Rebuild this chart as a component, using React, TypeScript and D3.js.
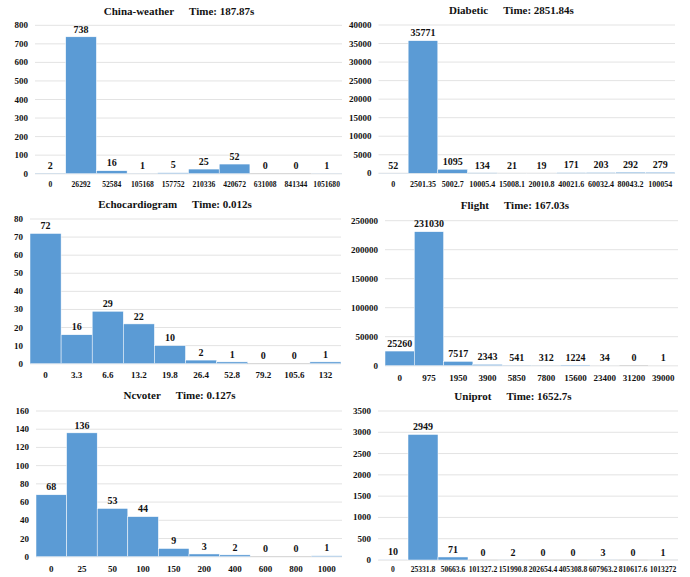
import React from "react";
import * as d3 from "d3";

// ---------- data ----------
const chinaCats = ["0", "26292", "52584", "105168", "157752", "210336", "420672", "631008", "841344", "1051680"];
const chinaVals = [2, 738, 16, 1, 5, 25, 52, 0, 0, 1];
const chinaTicks = [0, 100, 200, 300, 400, 500, 600, 700, 800];

const diabeticCats = ["0", "2501.35", "5002.7", "10005.4", "15008.1", "20010.8", "40021.6", "60032.4", "80043.2", "100054"];
const diabeticVals = [52, 35771, 1095, 134, 21, 19, 171, 203, 292, 279];
const diabeticTicks = [0, 5000, 10000, 15000, 20000, 25000, 30000, 35000, 40000];

const echoCats = ["0", "3.3", "6.6", "13.2", "19.8", "26.4", "52.8", "79.2", "105.6", "132"];
const echoVals = [72, 16, 29, 22, 10, 2, 1, 0, 0, 1];
const echoTicks = [0, 10, 20, 30, 40, 50, 60, 70, 80];

const flightCats = ["0", "975", "1950", "3900", "5850", "7800", "15600", "23400", "31200", "39000"];
const flightVals = [25260, 231030, 7517, 2343, 541, 312, 1224, 34, 0, 1];
const flightTicks = [0, 50000, 100000, 150000, 200000, 250000];

const ncvoterCats = ["0", "25", "50", "100", "150", "200", "400", "600", "800", "1000"];
const ncvoterVals = [68, 136, 53, 44, 9, 3, 2, 0, 0, 1];
const ncvoterTicks = [0, 20, 40, 60, 80, 100, 120, 140, 160];

const uniprotCats = ["0", "25331.8", "50663.6", "101327.2", "151990.8", "202654.4", "405308.8", "607963.2", "810617.6", "1013272"];
const uniprotVals = [10, 2949, 71, 0, 2, 0, 0, 3, 0, 1];
const uniprotTicks = [0, 500, 1000, 1500, 2000, 2500, 3000, 3500];

const titles = ["China-weather", "Diabetic", "Echocardiogram", "Flight", "Ncvoter", "Uniprot"];
const times = ["Time: 187.87s", "Time: 2851.84s", "Time: 0.012s", "Time: 167.03s", "Time: 0.127s", "Time: 1652.7s"];

// ---------- layout ----------
type Layout = { x0: number; x1: number; yT: number; yB: number; tx: number; ty: number; xl: number; xf: number };
const layouts: Layout[] = [
  { x0: 35, x1: 342, yT: 25.3, yB: 173.7, tx: 179, ty: 14.5, xl: 186.5, xf: 7.6 },
  { x0: 378.5, x1: 675, yT: 25, yB: 173.3, tx: 511.5, ty: 14, xl: 186.5, xf: 8 },
  { x0: 30, x1: 341, yT: 219, yB: 363.7, tx: 175, ty: 208, xl: 377.5, xf: 9 },
  { x0: 385, x1: 678, yT: 220.7, yB: 365.7, tx: 515, ty: 209, xl: 380.5, xf: 9 },
  { x0: 36, x1: 342, yT: 411, yB: 556.7, tx: 179.5, ty: 399, xl: 571.5, xf: 9 },
  { x0: 378, x1: 678, yT: 411, yB: 560, tx: 513, ty: 400, xl: 572, xf: 7.6 },
];

const FONT = "Liberation Serif, DejaVu Serif, serif";
const BLUE = "#5B9BD5";

function Panel({ cats, vals, ticks, title, time, L }: { cats: string[]; vals: number[]; ticks: number[]; title: string; time: string; L: Layout }) {
  const x = d3.scaleBand<string>().domain(cats).range([L.x0, L.x1]).padding(0);
  const y = d3.scaleLinear().domain([0, d3.max(ticks) as number]).range([L.yB, L.yT]);
  return (
    <g style={{ fontFamily: FONT, fontWeight: 700 }} fill="#111">
      <text x={L.tx} y={L.ty} textAnchor="middle" fontSize={11}>
        <tspan>{title}</tspan>
        <tspan dx={15}>{time}</tspan>
      </text>
      {ticks.map((t) => (
        <g key={t}>
          <line x1={L.x0} x2={L.x1} y1={y(t)} y2={y(t)} stroke={t === 0 ? "#D0D0D0" : "#E3E3E3"} strokeWidth={1} />
          <text x={L.x0 - 7} y={y(t)} dy="0.34em" textAnchor="end" fontSize={9}>
            {t}
          </text>
        </g>
      ))}
      {cats.map((c, i) => {
        const bx = x(c) as number;
        const top = y(vals[i]);
        return (
          <g key={c}>
            <rect x={bx} y={top} width={x.bandwidth()} height={Math.max(0, L.yB - top)} fill={BLUE} stroke="#fff" strokeWidth={0.5} />
            <text x={bx + x.bandwidth() / 2} y={top - 4.3} textAnchor="middle" fontSize={10}>
              {vals[i]}
            </text>
            <text x={bx + x.bandwidth() / 2} y={L.xl} textAnchor="middle" fontSize={L.xf}>
              {c}
            </text>
          </g>
        );
      })}
    </g>
  );
}

export default function App() {
  const catsList = [chinaCats, diabeticCats, echoCats, flightCats, ncvoterCats, uniprotCats];
  const valsList = [chinaVals, diabeticVals, echoVals, flightVals, ncvoterVals, uniprotVals];
  const ticksList = [chinaTicks, diabeticTicks, echoTicks, flightTicks, ncvoterTicks, uniprotTicks];
  return (
    <svg width={690} height={577} style={{ position: "absolute", left: 0, top: 0, background: "#fff" }}>
      <rect width={690} height={577} fill="#fff" />
      {layouts.map((L, i) => (
        <Panel key={i} cats={catsList[i]} vals={valsList[i]} ticks={ticksList[i]} title={titles[i]} time={times[i]} L={L} />
      ))}
    </svg>
  );
}
